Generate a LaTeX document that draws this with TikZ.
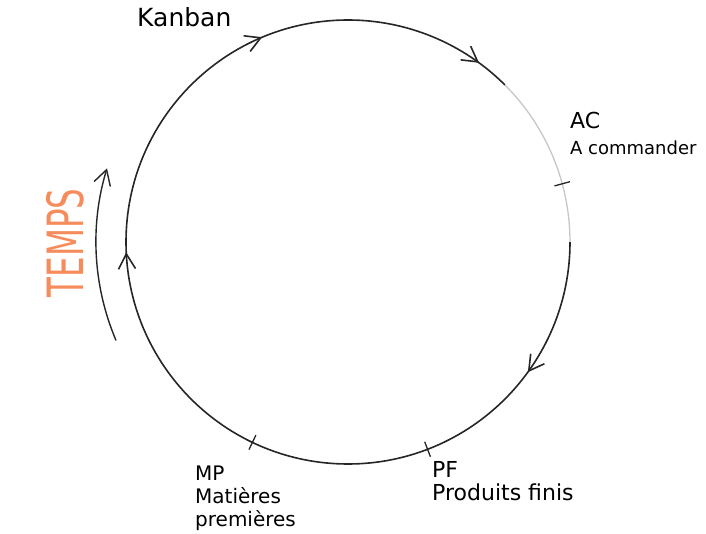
\documentclass[tikz,border=0pt]{standalone}
\usepackage{fontspec}
\setmainfont{DejaVu Sans}
\newfontfamily\tempsfont[FakeStretch=0.65]{DejaVu Sans}
\usetikzlibrary{arrows.meta, decorations.markings}
\definecolor{tempsorange}{RGB}{246,140,92}

\begin{document}
\begin{tikzpicture}[
    x=1pt, y=1pt,
    barb/.tip={Straight Barb[length=15pt, width=17pt]},
    cycle/.style={draw=black!85, line width=1.6pt},
    faded/.style={draw=black!22, line width=1.3pt},
    flow/.style={cycle, postaction={decorate}, decoration={markings,
        mark=at position 0.114 with {\arrow{barb}},
        mark=at position 0.563 with {\arrow{barb}},
        mark=at position 0.785 with {\arrow{barb}},
        mark=at position 0.972 with {\arrow{barb}}}},
    tick/.style={draw=black!85, line width=1.3pt},
    label/.style={anchor=base west, inner sep=0pt, align=left, font=\fontsize{22}{23}\selectfont},
    temps/.style={rotate=90, inner sep=0pt, text=tempsorange, font=\tempsfont\fontsize{50}{50}\selectfont},
]
    \useasboundingbox (0,0) rectangle (706,533);
    \coordinate (centre) at (348,291);

    % Cycle
    \path[flow] (centre) ++(0:222) arc[start angle=0, end angle=-315, radius=222];
    \path[faded] (centre) ++(45:222) arc[start angle=45, end angle=0, radius=222];

    % Stations on the cycle
    \foreach \a in {15.2, -69, -115.5}
        \draw[tick] (centre) ++(\a:214) -- ++(\a:16);

    % Time arrow
    \draw[cycle, line width=1.4pt, -barb] (centre) ++(203:252) arc[start angle=203, end angle=163, radius=252];
    \node[temps] (temps) at (65,290) {TEMPS};

    % Labels
    \node[label, font=\fontsize{25}{25}\selectfont] (kanban) at (137,506) {Kanban};
    \node[label] (ac) at (570,378) {AC\\[3pt]{\fontsize{18}{18}\selectfont A commander}};
    \node[label] (pf) at (432,33) {PF\\Produits finis};
    \node[label, font=\fontsize{20}{23}\selectfont] (mp) at (195,7) {MP\\Matières\\premières};
\end{tikzpicture}
\end{document}
